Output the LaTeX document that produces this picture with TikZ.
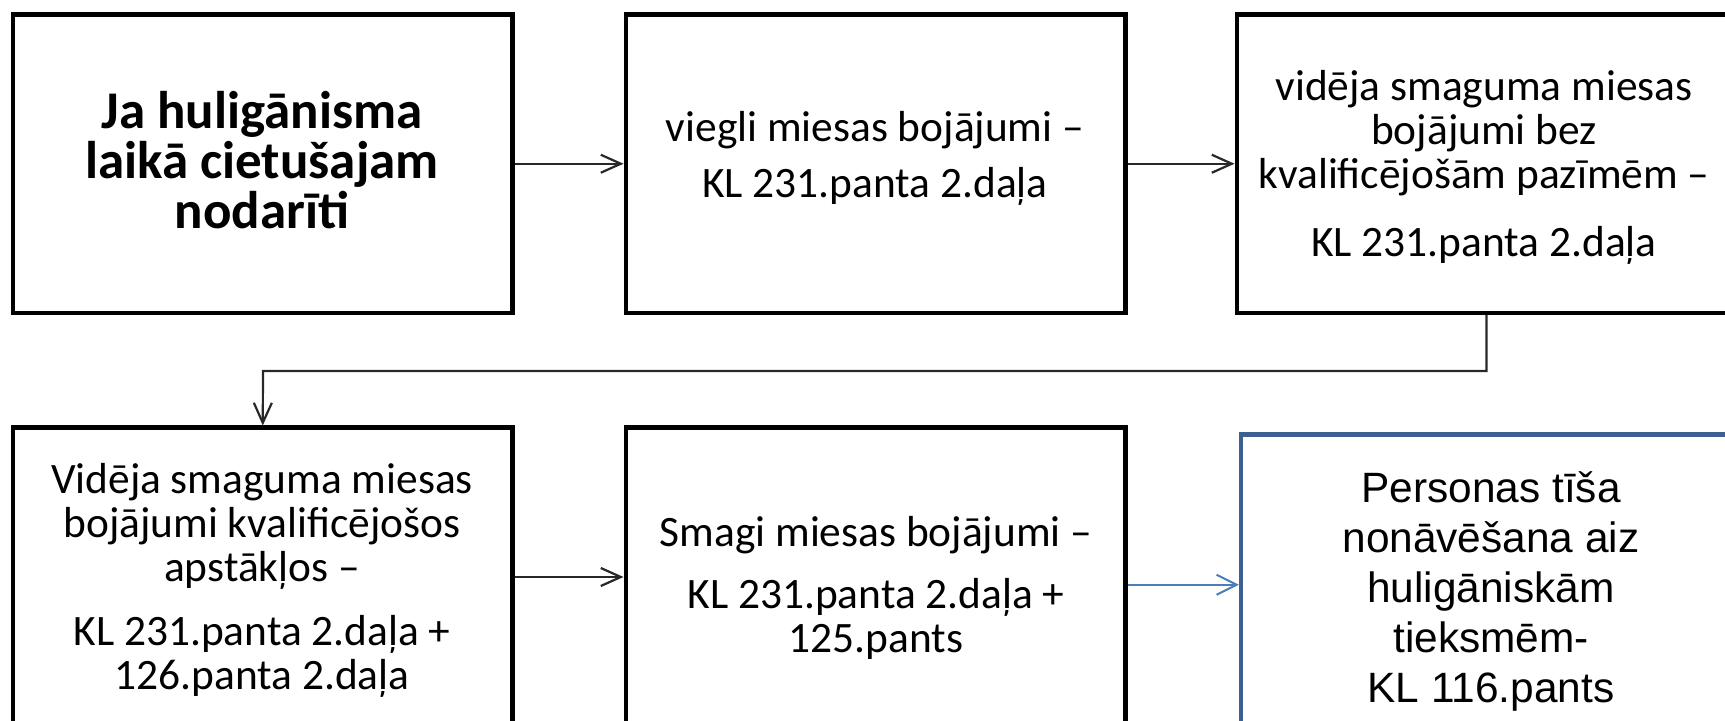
\documentclass[tikz,border=0pt]{standalone}
\usepackage{fontspec}
\setmainfont{Carlito}
\newfontfamily\arialfont{Liberation Sans}
\usetikzlibrary{arrows.meta}
\definecolor{boxblue}{RGB}{60,96,145}
\definecolor{arrowblue}{RGB}{74,126,187}
\definecolor{conncol}{RGB}{40,40,40}
\begin{document}
\begin{tikzpicture}[x=0.5pt,y=-0.5pt,
  box/.style={draw=black,line width=2.25pt,minimum width=249.75pt,minimum height=149.25pt,inner sep=0pt},
  bluebox/.style={draw=boxblue,line width=2.25pt,minimum width=249.5pt,minimum height=146.25pt,inner sep=0pt},
  txt/.style={align=center,inner sep=0pt,font=\fontsize{21.7pt}{22pt}\selectfont},
  boldtxt/.style={align=center,inner sep=0pt,font=\fontsize{26.5pt}{25pt}\selectfont\bfseries},
  arialtxt/.style={align=center,inner sep=0pt,font=\arialfont\fontsize{21.2pt}{25pt}\selectfont},
  conn/.style={draw=conncol,line width=1.1pt,-{Straight Barb[length=10pt,width=9pt]}},
  blueconn/.style={draw=arrowblue,line width=1pt,-{Straight Barb[length=10pt,width=10pt]}}]
\useasboundingbox (0,0) rectangle (1725,721);
\fill[white] (0,0) rectangle (1725,721);
% boxes
\node[box] (b1) at (262.75,163.75) {};
\node[box] (b2) at (875.5,163.75) {};
\node[box] (b3) at (1486.5,163.75) {};
\node[box] (b4) at (262.75,577) {};
\node[box] (b5) at (875.5,577) {};
\node[bluebox] (b6) at (1490.5,580.75) {};
% texts
\node[boldtxt] (t1) at (262,160) {Ja huligānisma\\ laikā cietušajam\\ nodarīti};
\node[txt] (t2) at (875,158) {viegli miesas bojājumi –\\[6pt] KL 231.panta 2.daļa};
\node[txt] (t3) at (1484,167) {vidēja smaguma miesas\\ bojājumi bez\\ kvalificējošām pazīmēm –\\[12pt] KL 231.panta 2.daļa};
\node[txt] (t4) at (262,580) {Vidēja smaguma miesas\\ bojājumi kvalificējošos\\ apstākļos –\\[10pt] KL 231.panta 2.daļa +\\ 126.panta 2.daļa};
\node[txt] (t5) at (876,588) {Smagi miesas bojājumi –\\[9pt] KL 231.panta 2.daļa +\\ 125.pants};
\node[arialtxt] (t6) at (1491,591) {Personas tīša\\ nonāvēšana aiz\\ huligāniskām\\ tieksmēm-\\ KL 116.pants};
% connectors
\coordinate (turn) at (263,371);
\draw[conn] (b1.east) -- (b2.west);
\draw[conn] (b2.east) -- (b3.west);
\draw[conn] (b3.south) |- (turn) -- (b4.north);
\draw[conn] (b4.east) -- (b5.west);
\draw[blueconn] ([yshift=-2pt]b6.west -| b5.east) -- ([yshift=-2pt]b6.west);
\end{tikzpicture}
\end{document}
